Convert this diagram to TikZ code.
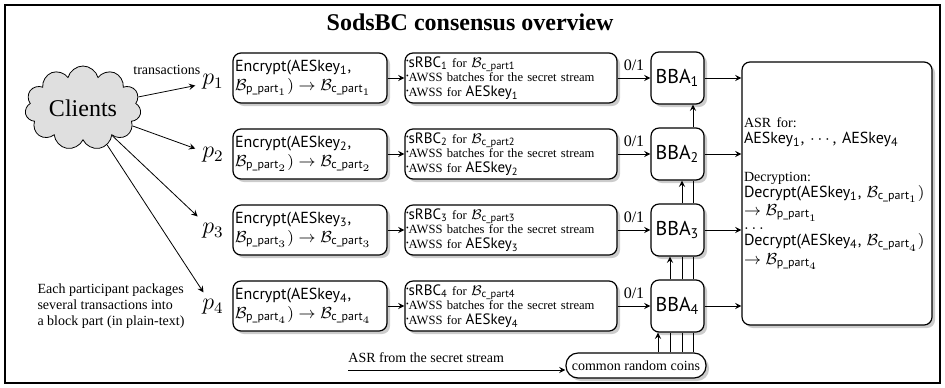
\documentclass[tikz,border=0pt]{standalone}
\usepackage{amsmath}
\usepackage{fontspec}
\setmainfont{Liberation Serif}
\setsansfont{PT Sans}
\usetikzlibrary{shapes.symbols,shadows}

\newcommand{\Bp}[1]{\mathcal{B}_{\textsf{p\_part}_{#1}}}
\newcommand{\Bc}[1]{\mathcal{B}_{\textsf{c\_part}_{#1}}}
\newcommand{\itm}{\raisebox{0.55ex}{\scalebox{0.6}{\textbullet}}}
\newcommand{\sfs}[1]{{\fontsize{7.5}{7.6}\selectfont\textsf{#1}}}

\begin{document}
\begin{tikzpicture}[x=0.5pt,y=-0.5pt,>=stealth,
  box/.style={draw,semithick,rounded corners=4pt,fill=white,drop shadow={opacity=0.4,shadow xshift=1.5pt,shadow yshift=-1.5pt}},
  enc/.style={box,text width=75pt,minimum height=25pt,align=left,inner sep=1pt,font=\footnotesize},
  rbc/.style={box,text width=105pt,minimum height=25pt,align=left,inner sep=0.5pt,font=\fontsize{6.3}{7.4}\selectfont},
  bba/.style={box,minimum width=26.5pt,minimum height=26pt,inner sep=0pt,font=\normalsize\sffamily},
  pnode/.style={font=\large}]
\useasboundingbox (0,0) rectangle (945,387);
\draw[semithick] (5,5) rectangle (940,383);
\node (title) at (470,22) {\large\bfseries SodsBC consensus overview};
\node[cloud,cloud puffs=11,aspect=1.5,draw,fill=gray!25,minimum width=58pt,minimum height=42pt,inner sep=0pt] (cl) at (83,108) {\large Clients};
\node[pnode] (p1) at (213,82) {$p_1$};
\node[pnode] (p2) at (213,155) {$p_2$};
\node[pnode] (p3) at (213,231) {$p_3$};
\node[pnode] (p4) at (213,307) {$p_4$};
\node[font=\scriptsize,align=left] (note) at (111,306) {Each participant packages\\several transactions into\\a block part (in plain-text)};
\node[enc] (e1) at (310,78) {\textsf{Encrypt(AESkey\textsubscript{1},}\\$\Bp1) \rightarrow \Bc1$};
\node[enc] (e2) at (310,154) {\textsf{Encrypt(AESkey\textsubscript{2},}\\$\Bp2) \rightarrow \Bc2$};
\node[enc] (e3) at (310,230) {\textsf{Encrypt(AESkey\textsubscript{3},}\\$\Bp3) \rightarrow \Bc3$};
\node[enc] (e4) at (310,306) {\textsf{Encrypt(AESkey\textsubscript{4},}\\$\Bp4) \rightarrow \Bc4$};
\node[rbc] (s1) at (511,78) {\itm\sfs{sRBC\textsubscript{1}} for \sfs{$\mathcal{B}_{\text{c\_part1}}$}\\\itm AWSS batches for the secret stream\\\itm AWSS for \sfs{AESkey\textsubscript{1}}};
\node[rbc] (s2) at (511,154) {\itm\sfs{sRBC\textsubscript{2}} for \sfs{$\mathcal{B}_{\text{c\_part2}}$}\\\itm AWSS batches for the secret stream\\\itm AWSS for \sfs{AESkey\textsubscript{2}}};
\node[rbc] (s3) at (511,230) {\itm\sfs{sRBC\textsubscript{3}} for \sfs{$\mathcal{B}_{\text{c\_part3}}$}\\\itm AWSS batches for the secret stream\\\itm AWSS for \sfs{AESkey\textsubscript{3}}};
\node[rbc] (s4) at (511,306) {\itm\sfs{sRBC\textsubscript{4}} for \sfs{$\mathcal{B}_{\text{c\_part4}}$}\\\itm AWSS batches for the secret stream\\\itm AWSS for \sfs{AESkey\textsubscript{4}}};
\node[bba] (b1) at (677.5,78) {BBA\textsubscript{1}};
\node[bba] (b2) at (677.5,154) {BBA\textsubscript{2}};
\node[bba] (b3) at (677.5,230) {BBA\textsubscript{3}};
\node[bba] (b4) at (677.5,306) {BBA\textsubscript{4}};
\node[box,text width=93pt,minimum height=131.5pt,align=left,inner sep=1pt,font=\fontsize{8}{8}\selectfont] (asr) at (837,193.5) {{\scriptsize ASR for:}\\
  \textsf{AESkey\textsubscript{1}}, $\cdots$, \textsf{AESkey\textsubscript{4}}\\[11pt]
  {\scriptsize Decryption:}\\
  \textsf{Decrypt(AESkey\textsubscript{1},} $\Bc1)$\\
  $\rightarrow \Bp1$\\[-1pt]
  $\ldots$\\
  \textsf{Decrypt(AESkey\textsubscript{4},} $\Bc4)$\\
  $\rightarrow \Bp4$};
\node[box,minimum width=70pt,minimum height=12.5pt,inner sep=1pt,rounded corners=6pt,font=\scriptsize] (coin) at (636,365.5) {common random coins};
\coordinate (asrin) at (348,370);
\draw[->] (cl) -- (p1) node[midway,above=5pt,font=\scriptsize] {transactions};
\draw[->] (cl) -- (p2);
\draw[->] (cl) -- (p3);
\draw[->] (cl) -- (p4);
\draw[->] (e1) -- (s1);
\draw[->] (e2) -- (s2);
\draw[->] (e3) -- (s3);
\draw[->] (e4) -- (s4);
\draw[->] (s1) -- (b1) node[midway,above,font=\footnotesize] {0/1};
\draw[->] (s2) -- (b2) node[midway,above,font=\footnotesize] {0/1};
\draw[->] (s3) -- (b3) node[midway,above,font=\footnotesize] {0/1};
\draw[->] (s4) -- (b4) node[midway,above,font=\footnotesize] {0/1};
\draw[->] (b1) -- (b1 -| asr.west);
\draw[->] (b2) -- (b2 -| asr.west);
\draw[->] (b3) -- (b3 -| asr.west);
\draw[->] (b4) -- (b4 -| asr.west);
\draw[->] (asrin) -- (asrin -| coin.west) node[pos=0,above right,font=\scriptsize,inner xsep=0pt] {ASR from the secret stream};
\draw[->] ([xshift=-9.75pt]b4.south |- coin.north) -- ([xshift=-9.75pt]b4.south);
\draw ([xshift=-3.75pt]b4.south |- coin.north) -- ([xshift=-3.75pt]b4.south);
\draw[->] ([xshift=-3.75pt]b4.north) -- ([xshift=-3.75pt]b3.south);
\draw ([xshift=2.25pt]b4.south |- coin.north) -- ([xshift=2.25pt]b4.south)
  ([xshift=2.25pt]b4.north) -- ([xshift=2.25pt]b3.south);
\draw[->] ([xshift=2.25pt]b3.north) -- ([xshift=2.25pt]b2.south);
\draw ([xshift=7.75pt]b4.south |- coin.north) -- ([xshift=7.75pt]b4.south)
  ([xshift=7.75pt]b4.north) -- ([xshift=7.75pt]b3.south)
  ([xshift=7.75pt]b3.north) -- ([xshift=7.75pt]b2.south);
\draw[->] ([xshift=7.75pt]b2.north) -- ([xshift=7.75pt]b1.south);
\end{tikzpicture}
\end{document}
